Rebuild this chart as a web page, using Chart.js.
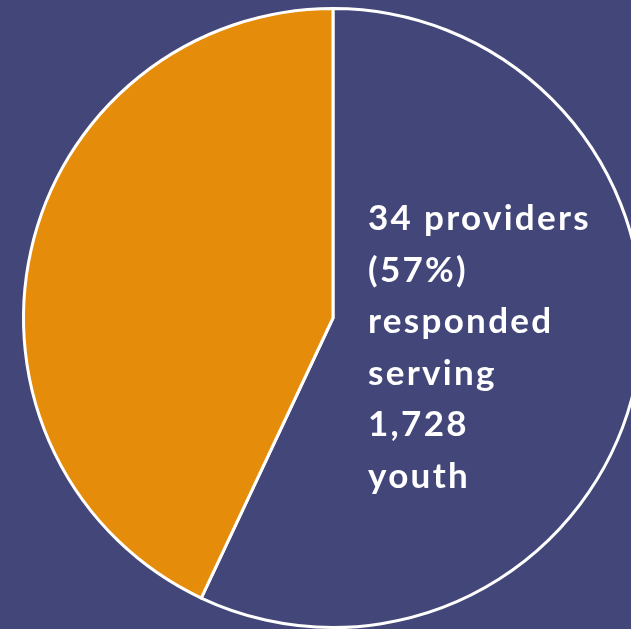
<!DOCTYPE html>
<html>
<head>
<meta charset="utf-8">
<script src="https://cdn.jsdelivr.net/npm/chart.js@4"></script>
<style>
  html, body { margin: 0; padding: 0; overflow: hidden; background: #434679; }
  #wrap { width: 666px; height: 640px; }
</style>
</head>
<body>
<div id="wrap"><canvas id="pie" width="666" height="640"></canvas></div>
<script>
let labels = ['Responded', 'Did not respond'];
let percents = [57, 43];
let noteLines = ['34 providers', '(57%)', 'responded', 'serving', '1,728', 'youth'];

let notePlugin = {
    id: 'note',
    afterDraw(chart) {
        let c = chart.ctx;
        c.save();
        c.fillStyle = '#ffffff';
        c.font = 'bold 35px Lato';
        c.letterSpacing = '2.3px';
        c.textBaseline = 'middle';
        noteLines.forEach((line, i) => {
            c.fillText(line, 368, 219 + i * 51.5);
        });
        c.restore();
    }
};

let pie = new Chart(document.getElementById('pie'), {
    type: 'pie',
    data: {
        labels: labels,
        datasets: [{
            data: percents,
            backgroundColor: ['#434679', '#e58c0a'],
            borderColor: '#ffffff',
            borderWidth: 3
        }]
    },
    options: {
        responsive: false,
        animation: false,
        layout: { padding: { left: 22, right: 22, top: 7, bottom: 11 } },
        plugins: {
            legend: { display: false },
            tooltip: { enabled: false }
        }
    },
    plugins: [notePlugin]
});
</script>
</body>
</html>
